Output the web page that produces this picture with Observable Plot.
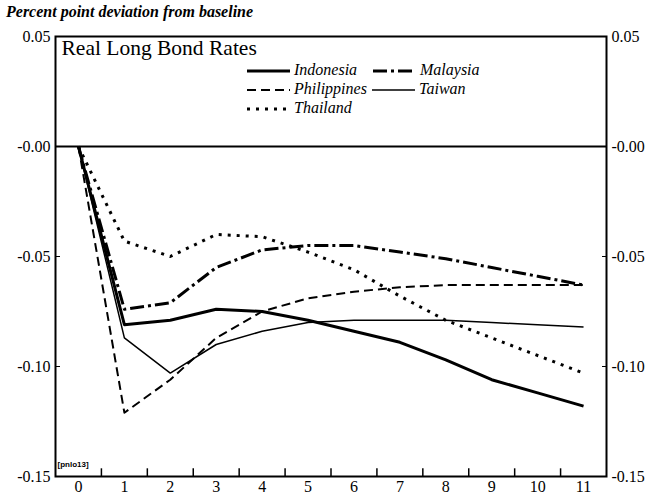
<!DOCTYPE html>
<html>
<head>
<meta charset="utf-8">
<script src="https://cdn.jsdelivr.net/npm/d3@7"></script>
<script src="https://cdn.jsdelivr.net/npm/@observablehq/plot@0.6"></script>
<style>
  body { margin: 0; background: #fff; }
  #wrap { position: relative; width: 658px; height: 496px; font-family: "Liberation Serif", "Times New Roman", Times, serif; }
  #sub { position: absolute; left: 6px; top: 3px; font-family: "Liberation Serif", "Times New Roman", Times, serif; font-style: italic; font-weight: bold; font-size: 16px; color: #000; }
  #legend { position: absolute; left: 247px; top: 62px; font-family: "Liberation Serif", "Times New Roman", Times, serif; font-style: italic; font-size: 16px; color: #000; }
  .row { position: absolute; white-space: nowrap; height: 16px; line-height: 16px; }
  .row svg { vertical-align: middle; margin-right: 4px; }
</style>
</head>
<body>
<div id="wrap">
  <div id="chart"></div>
  <div id="sub">Percent point deviation from baseline</div>
  <div id="legend"></div>
</div>
<script>
const periods = [0, 1, 2, 3, 4, 5, 6, 7, 8, 9, 10, 11];
const indonesia   = [0, -0.081, -0.079, -0.074, -0.075, -0.079, -0.084, -0.089, -0.097, -0.106, -0.112, -0.118];
const malaysia    = [0, -0.074, -0.071, -0.055, -0.047, -0.045, -0.045, -0.048, -0.051, -0.055, -0.059, -0.063];
const philippines = [0, -0.121, -0.106, -0.087, -0.075, -0.069, -0.066, -0.064, -0.063, -0.063, -0.063, -0.063];
const taiwan      = [0, -0.087, -0.103, -0.090, -0.084, -0.080, -0.079, -0.079, -0.079, -0.080, -0.081, -0.082];
const thailand    = [0, -0.043, -0.050, -0.040, -0.041, -0.048, -0.056, -0.068, -0.079, -0.087, -0.095, -0.103];
const seriesNames = ["Indonesia", "Malaysia", "Philippines", "Taiwan", "Thailand"];
const yTicks = [-0.15, -0.10, -0.05, 0, 0.05];
const xTickLabels = periods;
const xTickMarks = [0.5, 1.5, 2.5, 3.5, 4.5, 5.5, 6.5, 7.5, 8.5, 9.5, 10.5];

const styles = {
  Indonesia:   {strokeWidth: 3,   dash: null},
  Malaysia:    {strokeWidth: 3,   dash: "14,4,3,4"},
  Philippines: {strokeWidth: 2,   dash: "9,5"},
  Taiwan:      {strokeWidth: 1.5, dash: null},
  Thailand:    {strokeWidth: 3,   dash: "3,6"}
};
const values = {Indonesia: indonesia, Malaysia: malaysia, Philippines: philippines, Taiwan: taiwan, Thailand: thailand};

const lineMarks = seriesNames.map(name =>
  Plot.line(periods.map((p, i) => ({x: p, y: values[name][i]})), {
    x: "x", y: "y", stroke: "#000",
    strokeWidth: styles[name].strokeWidth,
    strokeDasharray: styles[name].dash,
    strokeLinecap: "butt", strokeLinejoin: "round"
  })
);

const yFmt = d => d === 0 ? "-0.00" : d.toFixed(2);
const font = "'Liberation Serif', 'Times New Roman', Times, serif";

const chart = Plot.plot({
  width: 658,
  height: 496,
  marginLeft: 55,
  marginRight: 52,
  marginTop: 36,
  marginBottom: 20,
  style: {fontFamily: font, fontSize: "14px", color: "#000", background: "#fff"},
  x: {domain: [-0.5, 11.5]},
  y: {domain: [-0.15, 0.05]},
  marks: [
    Plot.ruleY([0], {stroke: "#000", strokeWidth: 2}),
    ...lineMarks,
    Plot.axisY({anchor: "left", ticks: yTicks, tickFormat: yFmt, tickSize: -5, tickPadding: 10, label: null, fontSize: 16, fontFamily: font}),
    Plot.axisY({anchor: "right", ticks: yTicks, tickFormat: yFmt, tickSize: -5, tickPadding: 10, label: null, fontSize: 16, fontFamily: font}),
    Plot.axisX({ticks: xTickLabels, tickFormat: d => String(d), tickSize: 0, tickPadding: 4, label: null, fontSize: 16, fontFamily: font}),
    Plot.ruleX(xTickMarks, {x: d => d, y1: -0.15, y2: -0.1465, stroke: "#000", strokeWidth: 1.5}),
    Plot.frame({stroke: "#000", strokeWidth: 2}),
    Plot.text(["Real Long Bond Rates"], {frameAnchor: "top-left", dx: 6, dy: 3, textAnchor: "start", lineAnchor: "top", fontSize: 21.5, fontFamily: font}),
    Plot.text(["[pnlo13]"], {frameAnchor: "bottom-left", dx: 2, dy: -10, textAnchor: "start", lineAnchor: "bottom", fontSize: 8, fontWeight: "bold", fontFamily: "'Liberation Sans', Arial, sans-serif"})
  ]
});
document.getElementById("chart").appendChild(chart);

// Legend
const legendLayout = [
  {name: "Indonesia", left: 0, top: 0},
  {name: "Malaysia", left: 126, top: 0},
  {name: "Philippines", left: 0, top: 19},
  {name: "Taiwan", left: 125, top: 19},
  {name: "Thailand", left: 0, top: 38}
];
const legend = document.getElementById("legend");
legendLayout.forEach(item => {
  const s = styles[item.name];
  const row = document.createElement("div");
  row.className = "row";
  row.style.left = item.left + "px";
  row.style.top = item.top + "px";
  row.innerHTML = `<svg width="43" height="8"><line x1="0" y1="4" x2="43" y2="4" stroke="#000" stroke-width="${s.strokeWidth}" ${s.dash ? `stroke-dasharray="${s.dash}"` : ""}/></svg><span>${item.name}</span>`;
  legend.appendChild(row);
});
</script>
</body>
</html>
